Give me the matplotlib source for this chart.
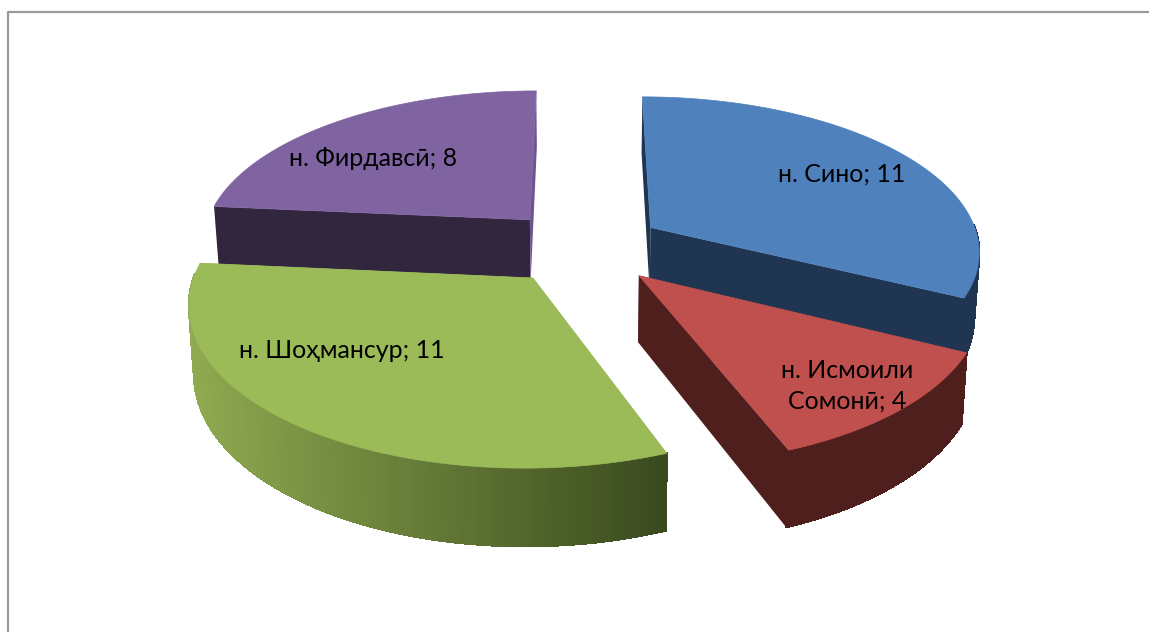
import matplotlib
matplotlib.use("Agg")
import matplotlib.pyplot as plt
import numpy as np

plt.rcParams['font.family'] = ['Lato', 'Noto Sans', 'DejaVu Sans']

# данные
names = ["н. Сино", "н. Исмоили\nСомонӣ", "н. Шоҳмансур", "н. Фирдавсӣ"]
values = [11, 4, 11, 8]

top_colors = ["#4F81BD", "#C0504D", "#9BBB59", "#8064A2"]
side_left = ["#1F3552", "#4F1F1E", "#8FAA50", "#32263F"]
side_right = ["#1F3552", "#4F1F1E", "#3A4A1E", "#32263F"]
back_wall = ["#1F3552", "#4F1F1E", "#9BBB59", "#6E5590"]
label_pos = [(842, 174), (847, 386), (342, 351), (373, 159)]
draw_order = [3, 0, 2, 1]

# параметры проекции
X0, Y0 = 583, 247
A, B = 330, 154
K = 0.14
DEPTH = 65
EXPLODE = 0.245
CONVERGE = 0.0002


def project(u, v, drop=0.0):
    s = 1 / (1 + K * v)
    return X0 + A * u * s * (1 - CONVERGE * drop), Y0 - B * v * s + drop * s


def to_rgb(c):
    return np.array(matplotlib.colors.to_rgb(c))


fig = plt.figure(figsize=(11.49, 6.32), dpi=100)
ax = fig.add_axes([0, 0, 1, 1])
ax.set_xlim(0, 1149)
ax.set_ylim(632, 0)
ax.axis("off")

# рамка
ax.plot([7.5, 7.5, 1149], [632, 11.5, 11.5], color="#9A9A9A", lw=1.6)

total = sum(values)
edges = np.concatenate([[0], np.cumsum(values)]) / total * 2 * np.pi

for i in draw_order:
    a0, a1 = edges[i], edges[i + 1]
    mid = (a0 + a1) / 2
    cu, cv = EXPLODE * np.sin(mid), EXPLODE * np.cos(mid)
    th = np.linspace(a0, a1, 120)
    u = cu + np.sin(th)
    v = cv + np.cos(th)

    tx, ty = project(u, v)
    bx, by = project(u, v, DEPTH)
    ax_, ay_ = project(cu, cv)
    cx_, cy_ = project(cu, cv, DEPTH)

    # передняя стенка
    ax.fill([ax_, tx[0], bx[0], cx_], [ay_, ty[0], by[0], cy_],
            color=side_left[i], lw=0)

    # дуга с градиентом слева направо, задняя часть дуги не видна
    c_l, c_r = to_rgb(side_left[i]), to_rgb(side_right[i])
    for j in range(len(th) - 1):
        if np.cos(th[j]) > 0.02:
            continue
        t = np.clip((tx[j] - tx.min()) / (tx.max() - tx.min()), 0, 1)
        col = c_l + (c_r - c_l) * t
        ax.fill([tx[j], tx[j + 1], bx[j + 1], bx[j]],
                [ty[j], ty[j + 1], by[j + 1], by[j]],
                color=col, lw=1.0, antialiased=False)

    # задняя стенка
    ax.fill([ax_, tx[-1], bx[-1], cx_], [ay_, ty[-1], by[-1], cy_],
            color=back_wall[i], lw=0)

    # верх
    ax.fill(np.r_[ax_, tx], np.r_[ay_, ty], color=top_colors[i], lw=0.5)

    ax.text(label_pos[i][0], label_pos[i][1], f"{names[i]}; {values[i]}",
            ha="center", va="center", fontsize=18, color="black", linespacing=1.4)

fig.savefig("out.png", dpi=100)
